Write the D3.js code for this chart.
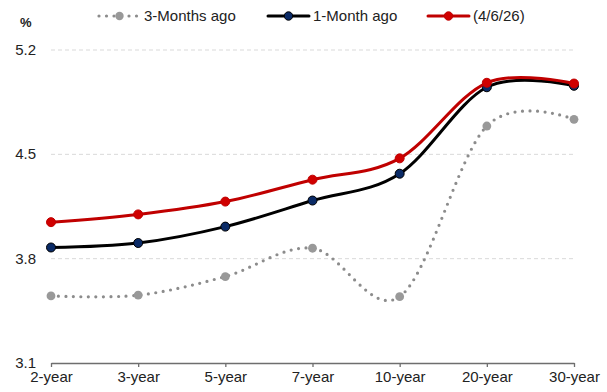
<!DOCTYPE html>
<html>
<head>
<meta charset="utf-8">
<script src="https://cdn.jsdelivr.net/npm/d3@7"></script>
<style>
  body { margin: 0; background: #fff; }
  text { font-family: "Liberation Sans", Arial, sans-serif; fill: #222; }
</style>
</head>
<body>
<div id="chart"></div>
<script>
// tenors along the bottom
var tenors = ["2-year", "3-year", "5-year", "7-year", "10-year", "20-year", "30-year"];
var yTicks = [3.1, 3.8, 4.5, 5.2];

// yields
var threeMonthsAgo = [3.55, 3.555, 3.68, 3.87, 3.545, 4.69, 4.735];
var oneMonthAgo = [3.875, 3.905, 4.015, 4.19, 4.37, 4.95, 4.96];
var latest = [4.045, 4.097, 4.183, 4.33, 4.473, 4.98, 4.975];

var series = [
  { name: "3-Months ago", values: threeMonthsAgo, stroke: "#8c8c8c", fill: "#999999", dots: true },
  { name: "1-Month ago", values: oneMonthAgo, stroke: "#000000", fill: "#0a2a66", dots: false },
  { name: "(4/6/26)", values: latest, stroke: "#c00000", fill: "#d00000", dots: false }
];

var width = 607, height = 392;
var svg = d3.select("#chart").append("svg")
  .attr("width", width)
  .attr("height", height);

var x = d3.scalePoint()
  .domain(tenors)
  .range([51, 574]);
var y = d3.scaleLinear()
  .domain([3.1, 5.2])
  .range([363, 50]);

// dashed gridlines
svg.append("g")
  .selectAll("line")
  .data(yTicks.slice(1))
  .enter().append("line")
   .attr("x1", 51)
   .attr("x2", 574)
   .attr("y1", function(d) { return y(d); })
   .attr("y2", function(d) { return y(d); })
   .attr("stroke", "#d9d9d9")
   .attr("stroke-width", 1)
   .attr("stroke-dasharray", "4,3");

// y labels
svg.append("g")
  .selectAll("text")
  .data(yTicks)
  .enter().append("text")
   .attr("x", 36)
   .attr("y", function(d) { return y(d) + 5; })
   .attr("text-anchor", "end")
   .style("font-size", "15px")
   .text(function(d) { return d.toFixed(1); });

svg.append("text")
  .attr("x", 20)
  .attr("y", 27)
  .style("font-size", "13px")
  .style("font-weight", "bold")
  .text("%");

// bottom axis
var xAxis = svg.append("g")
  .attr("transform", "translate(0," + y(3.1) + ")")
  .call(d3.axisBottom(x).tickSizeInner(4).tickSizeOuter(0).tickPadding(4));
xAxis.select(".domain").attr("stroke", "#6e6e6e").attr("stroke-width", 1.6);
xAxis.selectAll(".tick line").attr("stroke", "#6e6e6e").attr("stroke-width", 1.3);
xAxis.selectAll(".tick text")
  .style("font-size", "15px")
  .style("font-family", "'Liberation Sans', Arial, sans-serif")
  .attr("fill", "#222");

var line = d3.line()
  .x(function(d, i) { return x(tenors[i]); })
  .y(function(d) { return y(d); })
  .curve(d3.curveCardinal.tension(0));

series.forEach(function(s) {
  var p = svg.append("path")
    .datum(s.values)
    .attr("d", line)
    .attr("fill", "none")
    .attr("stroke", s.stroke)
    .attr("stroke-linecap", "round");
  if (s.dots) {
    p.attr("stroke-width", 3.2).attr("stroke-dasharray", "0,7.5");
  } else {
    p.attr("stroke-width", 3);
  }

  svg.append("g")
    .selectAll("circle")
    .data(s.values)
    .enter().append("circle")
     .attr("cx", function(d, i) { return x(tenors[i]); })
     .attr("cy", function(d) { return y(d); })
     .attr("r", s.dots ? 4.4 : 4.5)
     .attr("fill", s.fill)
     .attr("stroke", s.dots ? "none" : s.stroke)
     .attr("stroke-width", 1);
});

// legend
var legendX = [99, 268, 428];
var legend = svg.append("g");
series.forEach(function(s, i) {
  var lg = legend.append("g").attr("transform", "translate(" + legendX[i] + ",16)");
  var seg = lg.append("line")
    .attr("x1", 0).attr("x2", 41)
    .attr("y1", 0).attr("y2", 0)
    .attr("stroke", s.stroke)
    .attr("stroke-linecap", "round");
  if (s.dots) {
    seg.attr("stroke-width", 3.2).attr("stroke-dasharray", "0,7.5");
  } else {
    seg.attr("stroke-width", 3);
  }
  lg.append("circle")
    .attr("cx", 20.5).attr("cy", 0)
    .attr("r", 4.2)
    .attr("fill", s.fill)
    .attr("stroke", s.dots ? "none" : s.stroke)
    .attr("stroke-width", 1);
  lg.append("text")
    .attr("x", 45)
    .attr("y", 5)
    .style("font-size", "15px")
    .text(s.name);
});
</script>
</body>
</html>
